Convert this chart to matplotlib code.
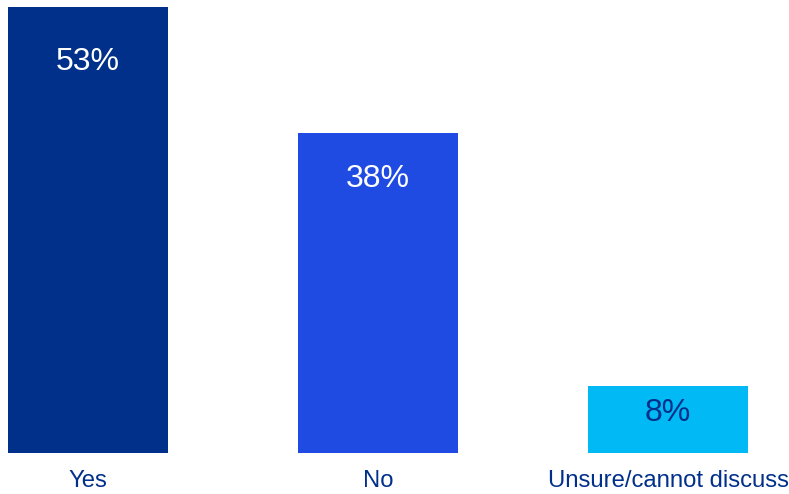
import matplotlib
matplotlib.use("Agg")
import matplotlib.pyplot as plt

categories = ["Yes", "No", "Unsure/cannot discuss"]
values = [53, 38, 8]
bar_colors = ["#00308A", "#1F4BE3", "#00B9F5"]
label_colors = ["white", "white", "#00308A"]
text_color = "#00308A"

plt.rcParams['font.family'] = ['Liberation Sans', 'DejaVu Sans']

W, H = 789, 494
fig = plt.figure(figsize=(W / 100, H / 100), dpi=100)
bottom_px = 41
ax = fig.add_axes([0, bottom_px / H, 1, 1 - bottom_px / H])

spacing = 290.0
x0 = 88.0
xs = list(range(len(categories)))
ax.bar(xs, values, width=160 / spacing, color=bar_colors)
ax.set_xlim(-x0 / spacing, (W - x0) / spacing)
px_per_pct = 8.415
ax.set_ylim(0, (H - bottom_px) / px_per_pct)

for x, v, c in zip(xs, values, label_colors):
    off_px = 12.5 + 0.6 * (v - 8)
    ax.annotate(f"{v}%", (x, v), xytext=(0, -off_px * 0.72), textcoords="offset points",
                ha="center", va="top", fontsize=23, color=c)

ax.set_xticks(xs)
ax.set_xticklabels(categories, fontsize=17.2, color=text_color)
ax.tick_params(axis="x", length=0, pad=12)
ax.set_yticks([])
for s in ax.spines.values():
    s.set_visible(False)
ax.patch.set_alpha(0)

fig.savefig("out.png", dpi=100)
